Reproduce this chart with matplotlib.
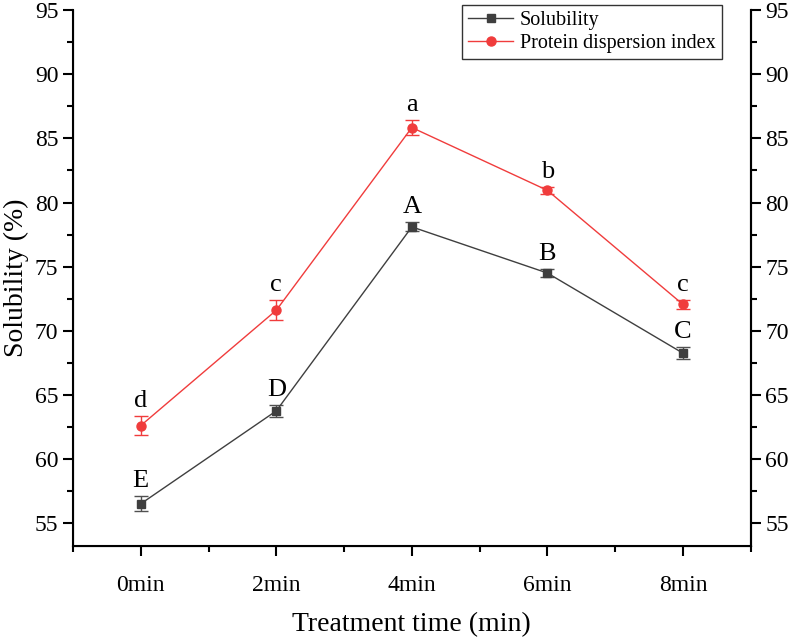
import matplotlib.pyplot as plt
from matplotlib.lines import Line2D
from matplotlib.ticker import MultipleLocator

plt.rcParams['font.family'] = ['Liberation Serif', 'DejaVu Serif']

times = ["0min", "2min", "4min", "6min", "8min"]
solubility = [56.5, 63.75, 78.1, 74.5, 68.25]
solubility_err = [0.6, 0.45, 0.35, 0.3, 0.45]
solubility_letters = ["E", "D", "A", "B", "C"]
pdi = [62.6, 71.6, 85.85, 80.95, 72.05]
pdi_err = [0.75, 0.8, 0.55, 0.25, 0.35]
pdi_letters = ["d", "c", "a", "b", "c"]

x = list(range(len(times)))
grey = "#3f3f3f"
red = "#f03c3c"

fig = plt.figure(figsize=(7.89, 6.4), dpi=100)
ax = fig.add_axes([0.0925, 0.1475, 0.859, 0.8365])

ax.errorbar(x, solubility, yerr=solubility_err, color=grey, ecolor="#505050",
            marker="s", markersize=6, linewidth=1, elinewidth=1, capsize=5)
ax.errorbar(x, pdi, yerr=pdi_err, color=red, ecolor=red,
            marker="o", markersize=6.5, linewidth=1, elinewidth=1, capsize=5)

# significance letters above the error bars
for xi, v, e, t in zip(x, solubility, solubility_err, solubility_letters):
    ax.annotate(t, (xi, v + e), xytext=(0, 3), textcoords="offset points",
                ha="center", va="bottom", fontsize=19)
for xi, v, e, t in zip(x, pdi, pdi_err, pdi_letters):
    ax.annotate(t, (xi, v + e), xytext=(0, 3), textcoords="offset points",
                ha="center", va="bottom", fontsize=19)

ax.set_xlim(-0.5, 4.5)
ax.set_xticks(x)
ax.set_xticklabels(times)
ax.xaxis.set_minor_locator(MultipleLocator(0.5))
ax.yaxis.set_major_locator(MultipleLocator(5))
ax.yaxis.set_minor_locator(MultipleLocator(2.5))
ax.set_ylim(53.24, 95)

ax.set_xlabel("Treatment time (min)", fontsize=20, labelpad=12)
ax.set_ylabel("Solubility (%)", fontsize=20, labelpad=4)

ax.spines["top"].set_visible(False)
for s in ["left", "bottom", "right"]:
    ax.spines[s].set_linewidth(1.5)
ax.tick_params(which="major", direction="out", length=7, width=1.5, labelsize=17)
ax.tick_params(which="minor", direction="out", length=4, width=1.5)
ax.tick_params(axis="x", pad=14)

ax2 = ax.twinx()
ax2.yaxis.set_major_locator(MultipleLocator(5))
ax2.yaxis.set_minor_locator(MultipleLocator(2.5))
ax2.set_ylim(53.24, 95)
ax2.spines["top"].set_visible(False)
ax2.spines["right"].set_linewidth(1.5)
ax2.tick_params(which="major", direction="out", length=7, width=1.5, labelsize=17)
ax2.tick_params(which="minor", direction="out", length=4, width=1.5)

handles = [Line2D([], [], color=grey, marker="s", markersize=6, linewidth=1),
           Line2D([], [], color=red, marker="o", markersize=6.5, linewidth=1)]
leg = ax.legend(handles, ["Solubility", "Protein dispersion index"],
                loc="upper right", bbox_to_anchor=(0.957, 1.01), fontsize=14.5,
                frameon=True, fancybox=False, edgecolor="black",
                borderpad=0.3, handlelength=2.2, handletextpad=0.35,
                labelspacing=0.2, borderaxespad=0)
leg.get_frame().set_linewidth(1.0)

fig.savefig("out.png", dpi=100)
